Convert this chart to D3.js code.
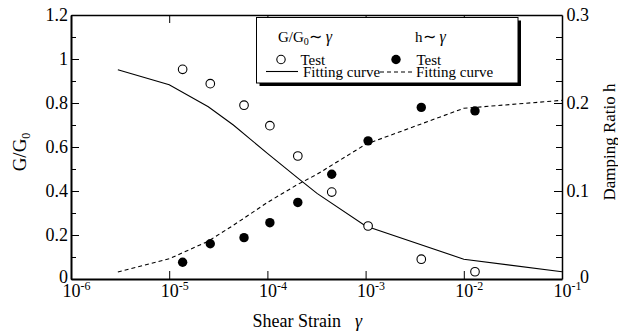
<!DOCTYPE html>
<html>
<head>
<meta charset="utf-8">
<script src="https://cdn.jsdelivr.net/npm/d3@7"></script>
<style>
  body { margin: 0; background: #fff; }
  svg, svg text { font-family: "Liberation Serif", "Times New Roman", Times, serif; }
</style>
</head>
<body>
<div class="chart"></div>
<script>
// test points
const testStrain = [1.37e-5, 2.62e-5, 5.78e-5, 1.06e-4, 2.04e-4, 4.52e-4, 1.06e-3, 3.69e-3, 1.30e-2];
const testG = [0.953, 0.888, 0.790, 0.697, 0.559, 0.395, 0.241, 0.090, 0.033];
const testH = [0.019, 0.040, 0.047, 0.064, 0.087, 0.119, 0.157, 0.195, 0.191];

// fitting curves
const fitStrain = [3e-6, 1e-5, 2.5e-5, 4.5e-5, 1e-4, 2e-4, 3.2e-4, 1e-3, 1e-2, 1e-1];
const fitG = [0.951, 0.883, 0.783, 0.700, 0.571, 0.462, 0.389, 0.241, 0.090, 0.033];
const fitH = [0.008, 0.023, 0.043, 0.061, 0.087, 0.107, 0.119, 0.153, 0.194, 0.203];

const xTicks = [1e-6, 1e-5, 1e-4, 1e-3, 1e-2, 1e-1];
const xExp = ["-6", "-5", "-4", "-3", "-2", "-1"];
const gTicks = [0, 0.2, 0.4, 0.6, 0.8, 1, 1.2];
const gMinor = d3.range(0, 1.21, 0.1);
const hTicks = [0, 0.1, 0.2, 0.3];
const hMinor = d3.range(0, 0.301, 0.025);

const W = 618, H = 335;
const margin = {top: 15, right: 56, bottom: 56, left: 71},
    width = W - margin.left - margin.right,
    height = H - margin.top - margin.bottom;

const svg = d3.select(".chart")
  .append("svg")
    .attr("width", W)
    .attr("height", H)
    .attr("font-family", "Liberation Serif, Times New Roman, serif")
  .append("g")
    .attr("transform", `translate(${margin.left},${margin.top})`);

const x = d3.scaleLog().domain([1e-6, 1e-1]).range([0, width]);
const yG = d3.scaleLinear().domain([0, 1.2]).range([height, 0]);
const yH = d3.scaleLinear().domain([0, 0.3]).range([height, 0]);

// d3 axes put a sans-serif font on their group, drop it
function plain(g) {
  g.attr("font-family", null).attr("font-size", null);
  g.selectAll("text").attr("fill", "#000").attr("font-size", 18);
}

// minor ticks first
svg.append("g")
    .call(d3.axisLeft(yG).tickValues(gMinor).tickSize(-5).tickSizeOuter(0).tickFormat(""))
    .call(g => g.select(".domain").remove());
svg.append("g")
    .attr("transform", `translate(${width},0)`)
    .call(d3.axisRight(yH).tickValues(hMinor).tickSize(-6).tickSizeOuter(0).tickFormat(""))
    .call(g => g.select(".domain").remove());

// left axis
svg.append("g")
    .call(d3.axisLeft(yG).tickValues(gTicks).tickSize(-8).tickSizeOuter(0).tickPadding(3)
      .tickFormat(d => d === 0 ? "0" : d3.format("")(+d.toFixed(1))))
    .call(plain)
    .call(g => g.select(".domain").attr("stroke-width", 2))
    .call(g => g.selectAll("text").filter(d => d === 0).attr("dy", "0.2em"));

// right axis, labels right aligned
svg.append("g")
    .attr("transform", `translate(${width},0)`)
    .call(d3.axisRight(yH).tickValues(hTicks).tickSize(-8).tickSizeOuter(0)
      .tickFormat(d => d === 0 ? "0" : d3.format(".1f")(d)))
    .call(plain)
    .call(g => g.select(".domain").attr("stroke-width", 1.5))
    .call(g => g.selectAll("text").attr("text-anchor", "end").attr("x", 27))
    .call(g => g.selectAll("text").filter(d => d === 0).attr("dy", "0.2em"));

// top axis
svg.append("g")
    .call(d3.axisTop(x).tickValues(xTicks.slice(1, 5)).tickSize(-8).tickSizeOuter(0).tickFormat(""))
    .call(g => g.select(".domain").attr("stroke-width", 1.5));

// bottom axis with powers of ten
const bottom = svg.append("g")
    .attr("transform", `translate(0,${height})`)
    .call(d3.axisBottom(x).tickValues(xTicks).tickSize(-8).tickSizeOuter(0).tickFormat(""))
    .call(plain)
    .call(g => g.select(".domain").attr("stroke-width", 2));

bottom.selectAll(".tick").filter(d => d === 1e-6 || d === 1e-1).select("line").remove();

bottom.selectAll(".tick").each(function(d, i) {
  const t = d3.select(this).append("text")
      .attr("fill", "#000")
      .attr("font-size", 18)
      .attr("text-anchor", "start")
      .attr("x", -9)
      .attr("y", 18);
  t.append("tspan").text("10");
  t.append("tspan").attr("font-size", 12).attr("dy", -7).text(xExp[i]);
});

// fitting curves
const fitData = fitStrain.map((s, i) => ({s: s, g: fitG[i], h: fitH[i]}));

svg.append("path")
    .datum(fitData)
    .attr("fill", "none")
    .attr("stroke", "#000")
    .attr("stroke-width", 1.1)
    .attr("d", d3.line().x(d => x(d.s)).y(d => yG(d.g)));

svg.append("path")
    .datum(fitData)
    .attr("fill", "none")
    .attr("stroke", "#000")
    .attr("stroke-width", 1.1)
    .attr("stroke-dasharray", "4,3")
    .attr("d", d3.line().x(d => x(d.s)).y(d => yH(d.h)));

// test points
const testData = testStrain.map((s, i) => ({s: s, g: testG[i], h: testH[i]}));

svg.selectAll(".open")
    .data(testData)
    .join("circle")
      .attr("class", "open")
      .attr("cx", d => x(d.s))
      .attr("cy", d => yG(d.g))
      .attr("r", 4.3)
      .attr("fill", "#fff")
      .attr("stroke", "#000")
      .attr("stroke-width", 1.1);

svg.selectAll(".filled")
    .data(testData)
    .join("circle")
      .attr("class", "filled")
      .attr("cx", d => x(d.s))
      .attr("cy", d => yH(d.h))
      .attr("r", 4.7)
      .attr("fill", "#000");

// legend (page coordinates)
const root = d3.select(".chart svg");
const lg = root.append("g");
lg.append("rect").attr("x", 259.5).attr("y", 20.5).attr("width", 261.5).attr("height", 65.5).attr("fill", "#000");
lg.append("rect").attr("x", 256.5).attr("y", 17.5).attr("width", 261.5).attr("height", 65.5)
    .attr("fill", "#fff").attr("stroke", "#000").attr("stroke-width", 1);

const lt1 = lg.append("text").attr("x", 278).attr("y", 41.5).attr("font-size", 15);
lt1.append("tspan").text("G/G");
lt1.append("tspan").attr("font-size", 10).attr("dy", 3).text("0");
lt1.append("tspan").attr("dy", -3).attr("font-size", 16).text("∼ ");
lt1.append("tspan").attr("font-style", "italic").attr("font-size", 16).text("γ");

const lt2 = lg.append("text").attr("x", 415).attr("y", 41.5).attr("font-size", 15);
lt2.append("tspan").text("h");
lt2.append("tspan").attr("font-size", 16).text("∼ ");
lt2.append("tspan").attr("font-style", "italic").attr("font-size", 16).text("γ");

lg.append("circle").attr("cx", 281).attr("cy", 59.5).attr("r", 4.2)
    .attr("fill", "#fff").attr("stroke", "#000").attr("stroke-width", 1.1);
lg.append("text").attr("x", 300.5).attr("y", 64.5).attr("font-size", 15).text("Test");
lg.append("circle").attr("cx", 396).attr("cy", 59.5).attr("r", 4.7).attr("fill", "#000");
lg.append("text").attr("x", 416.5).attr("y", 64.5).attr("font-size", 15).text("Test");

lg.append("line").attr("x1", 266).attr("x2", 298).attr("y1", 71.5).attr("y2", 71.5)
    .attr("stroke", "#000").attr("stroke-width", 1.1);
lg.append("text").attr("x", 303).attr("y", 77).attr("font-size", 15).text("Fitting curve");
lg.append("line").attr("x1", 380).attr("x2", 414).attr("y1", 72).attr("y2", 72)
    .attr("stroke", "#000").attr("stroke-width", 1.1).attr("stroke-dasharray", "4,3");
lg.append("text").attr("x", 416).attr("y", 77).attr("font-size", 15).text("Fitting curve");

// axis titles
const xt = root.append("text").attr("x", 252.5).attr("y", 327).attr("font-size", 18);
xt.append("tspan").text("Shear Strain ");
xt.append("tspan").attr("x", 355).attr("font-style", "italic").text("γ");

const yl = root.append("text")
    .attr("transform", "translate(26,152) rotate(-90)")
    .attr("text-anchor", "middle")
    .attr("font-size", 19);
yl.append("tspan").text("G/G");
yl.append("tspan").attr("font-size", 12).attr("dy", 4).text("0");

root.append("text")
    .attr("transform", "translate(615,142) rotate(-90)")
    .attr("text-anchor", "middle")
    .attr("font-size", 17)
    .text("Damping Ratio h");
</script>
</body>
</html>
